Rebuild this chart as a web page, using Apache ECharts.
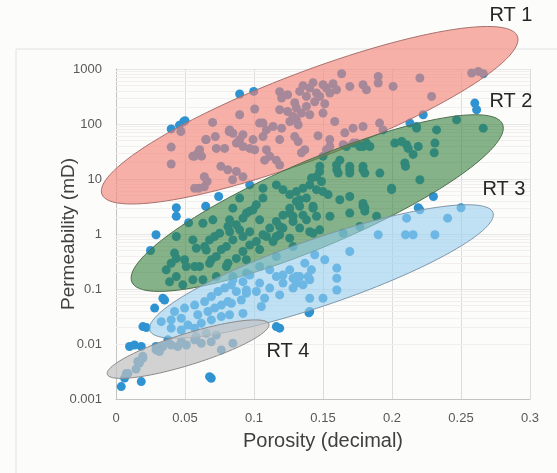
<!DOCTYPE html>
<html>
<head>
<meta charset="utf-8">
<script src="https://cdn.jsdelivr.net/npm/echarts@6/dist/echarts.min.js"></script>
<style>
  html, body { margin: 0; padding: 0; background: #fcfcfa; }
  #chart { width: 557px; height: 473px; }
</style>
</head>
<body>
<div id="chart"></div>
<script>
// samples: [porosity (decimal), permeability (mD)]
const outlierPoints = [
  [0.040, 81], [0.046, 95], [0.049, 110], [0.050, 115], [0.0896, 351], [0.0998, 391],
  [0.0437, 3.0], [0.0437, 2.1], [0.065, 3.2], [0.0744, 4.8], [0.0526, 1.6], [0.029, 0.97],
  [0.0437, 0.9], [0.025, 0.5], [0.26, 240], [0.2613, 182], [0.2226, 147], [0.23, 4.8],
  [0.2202, 2.75], [0.034, 0.068], [0.0352, 0.063], [0.028, 0.045], [0.0195, 0.0207],
  [0.022, 0.0199], [0.0098, 0.009], [0.0134, 0.0096], [0.0183, 0.009], [0.0038, 0.00168],
  [0.0183, 0.00207], [0.0678, 0.00255], [0.069, 0.00238], [0.1162, 0.0207], [0.1186, 0.0194],
  [0.1404, 0.039], [0.1398, 0.037]
];

const rt1Points = [
  [0.047, 73], [0.040, 38], [0.040, 18.7], [0.070, 107], [0.065, 52], [0.072, 59], [0.0727, 36],
  [0.057, 26], [0.059, 29], [0.062, 26], [0.082, 73], [0.0787, 36], [0.081, 14.7], [0.064, 11],
  [0.057, 6.8], [0.060, 6.8], [0.064, 7.2], [0.066, 9], [0.076, 17], [0.0845, 9.7],
  [0.120, 297], [0.0896, 147], [0.1005, 187], [0.1186, 182],
  [0.1244, 169], [0.1307, 195], [0.1344, 158], [0.1283, 137], [0.138, 209], [0.1404, 147],
  [0.1331, 391], [0.1404, 451], [0.1453, 366], [0.1525, 451], [0.1598, 420], [0.138, 317],
  [0.1476, 317], [0.155, 366],
  [0.1635, 820], [0.1694, 482], [0.179, 518], [0.1815, 420], [0.150, 158], [0.1718, 84],
  [0.179, 90], [0.1464, 61], [0.1065, 104], [0.109, 78], [0.1065, 59], [0.1138, 90],
  [0.120, 84], [0.1186, 52], [0.0896, 52], [0.092, 64], [0.0993, 52], [0.0969, 36],
  [0.1005, 34], [0.109, 34], [0.1114, 26], [0.1162, 22], [0.1077, 22], [0.1295, 59],
  [0.132, 48], [0.1368, 34], [0.1344, 30], [0.126, 111], [0.1307, 119], [0.132, 97],
  [0.0824, 78], [0.0872, 45], [0.092, 39], [0.1525, 34], [0.1646, 42], [0.184, 39],
  [0.19, 733], [0.19, 556], [0.2008, 482], [0.2202, 685], [0.2287, 317], [0.2577, 846],
  [0.2625, 904], [0.2662, 820], [0.191, 104], [0.1935, 78], [0.213, 104], [0.2178, 90],
  [0.1355, 497], [0.1428, 564], [0.15, 518], [0.1573, 540], [0.1295, 244], [0.144, 254],
  [0.1513, 233], [0.1244, 340], [0.1186, 386], [0.1585, 111], [0.1658, 69], [0.1549, 52],
  [0.0654, 52], [0.0606, 34], [0.0557, 26], [0.0847, 68], [0.104, 104],
  [0.0872, 13.7], [0.092, 11], [0.1186, 18]
];

const rt2Points = [
  [0.1549, 39], [0.1622, 22], [0.179, 39], [0.1815, 45], [0.2178, 84], [0.2323, 78],
  [0.2468, 119], [0.2661, 84], [0.202, 45], [0.207, 48], [0.2105, 42], [0.2117, 36],
  [0.219, 39], [0.2311, 45], [0.2306, 30], [0.2153, 28], [0.2093, 19.5], [0.2098, 17],
  [0.1997, 6.4], [0.1912, 12.8], [0.1803, 12.8], [0.179, 17], [0.1694, 17], [0.1694, 12.8],
  [0.1598, 18], [0.161, 12.8], [0.179, 3.6], [0.1803, 3.0], [0.1694, 4.8], [0.1888, 2.1],
  [0.2202, 9.7], [0.1743, 45], [0.1767, 39], [0.15, 26], [0.1477, 17], [0.1453, 11],
  [0.167, 39], [0.172, 45], [0.1997, 6.8],
  [0.1065, 6.8], [0.1162, 7.8], [0.121, 6.4], [0.1259, 5.2], [0.1307, 5.9], [0.1355, 6.8],
  [0.1404, 7.8], [0.1453, 6.4], [0.1489, 9.0], [0.15, 5.9], [0.1416, 10.4], [0.1476, 13.7],
  [0.138, 4.5], [0.1307, 3.9], [0.1259, 2.95], [0.121, 2.2], [0.1162, 1.69], [0.1114, 1.28],
  [0.1065, 0.97], [0.1017, 0.73], [0.0969, 0.63], [0.092, 0.48], [0.0872, 0.36],
  [0.1065, 4.5], [0.1017, 3.4], [0.0969, 2.6], [0.092, 1.94], [0.0872, 1.47], [0.0824, 1.1],
  [0.121, 1.28], [0.1283, 1.69], [0.1355, 2.2], [0.1428, 2.95], [0.1453, 2.1], [0.1331, 1.28],
  [0.1404, 1.1], [0.0896, 4.5], [0.0847, 2.95], [0.0969, 7.8], [0.16, 14.7], [0.1694, 14.7],
  [0.179, 14.7], [0.179, 3.2], [0.1803, 2.6], [0.1537, 5.2], [0.1138, 0.73], [0.1186, 0.97],
  [0.1259, 0.84], [0.0969, 1.1], [0.092, 0.9],
  [0.0388, 0.135], [0.0437, 0.168], [0.0557, 0.147], [0.0509, 0.256], [0.0606, 0.256],
  [0.0678, 0.294], [0.0437, 0.36], [0.0364, 0.223], [0.0654, 0.51], [0.0727, 0.39],
  [0.08, 0.59], [0.0847, 0.78], [0.0751, 1.03], [0.0678, 0.78], [0.063, 1.57], [0.0702, 1.81],
  [0.0557, 0.78], [0.0582, 0.55], [0.0823, 1.81], [0.0896, 1.19], [0.0945, 2.4], [0.1041, 1.81],
  [0.0993, 2.75], [0.109, 0.9], [0.1186, 1.37], [0.1283, 2.1], [0.1331, 3.2], [0.1041, 0.52],
  [0.1162, 0.39], [0.1283, 0.59], [0.0945, 0.34], [0.1041, 0.256], [0.08, 0.256],
  [0.0727, 0.168], [0.063, 0.147], [0.0484, 0.119], [0.0847, 0.168], [0.0945, 0.194],
  [0.1162, 0.9], [0.0642, 0.59], [0.0715, 0.9], [0.0763, 0.52], [0.0811, 1.37], [0.0691, 0.34],
  [0.0497, 0.34], [0.057, 0.256], [0.0811, 0.294], [0.040, 0.294], [0.0424, 0.45],
  [0.1259, 2.4], [0.1331, 4.2], [0.1428, 3.2], [0.138, 1.81], [0.1476, 1.19], [0.155, 2.1],
  [0.1622, 4.2], [0.1694, 2.4], [0.1767, 1.37], [0.1646, 1.03], [0.1428, 1.03]
];

const rt3Points = [
  [0.144, 0.42], [0.1368, 0.295], [0.1416, 0.223], [0.1392, 0.168], [0.1331, 0.168],
  [0.1283, 0.157], [0.1259, 0.223], [0.121, 0.18], [0.1307, 0.128], [0.1694, 0.48],
  [0.16, 0.24], [0.16, 0.157], [0.1404, 0.068], [0.1053, 0.048], [0.092, 0.036],
  [0.0908, 0.063], [0.0836, 0.055], [0.0872, 0.09], [0.0945, 0.096], [0.1017, 0.09],
  [0.092, 0.136], [0.0847, 0.147], [0.1162, 0.168], [0.121, 0.128], [0.1307, 0.168],
  [0.1355, 0.119], [0.1404, 0.147], [0.1283, 0.104], [0.1114, 0.104],
  [0.219, 3.0], [0.25, 3.0], [0.2106, 1.94], [0.2403, 1.94], [0.19, 0.97], [0.2098, 0.97],
  [0.2153, 0.97], [0.2311, 0.97],
  [0.0328, 0.0255], [0.040, 0.0274], [0.0473, 0.0294], [0.0424, 0.039], [0.0497, 0.045],
  [0.057, 0.051], [0.0642, 0.059], [0.0691, 0.073], [0.0739, 0.09], [0.0787, 0.104],
  [0.0836, 0.119], [0.0593, 0.034], [0.0666, 0.039], [0.0715, 0.045], [0.0763, 0.051],
  [0.0811, 0.059], [0.0521, 0.0222], [0.0618, 0.0239], [0.0691, 0.0274], [0.0763, 0.0315],
  [0.0823, 0.034], [0.040, 0.0194], [0.0473, 0.018], [0.057, 0.0194],
  [0.0969, 0.18], [0.1041, 0.128], [0.0945, 0.084], [0.1077, 0.068], [0.1186, 0.078],
  [0.1114, 0.223], [0.1513, 0.34], [0.16, 0.096], [0.15, 0.068]
];

const rt4Points = [
  [0.0086, 0.0029], [0.0062, 0.0024], [0.0158, 0.0048], [0.0194, 0.0055], [0.029, 0.0078],
  [0.034, 0.009], [0.040, 0.0096], [0.0448, 0.009], [0.051, 0.0096], [0.0376, 0.0119],
  [0.0473, 0.011], [0.057, 0.0119], [0.0618, 0.0103], [0.069, 0.011], [0.0763, 0.0078],
  [0.0847, 0.0103], [0.058, 0.0136], [0.0654, 0.0157], [0.0727, 0.0146], [0.0145, 0.0035],
  [0.029, 0.009], [0.0315, 0.0073], [0.0194, 0.006], [0.017, 0.0045], [0.0074, 0.0029]
];

// rock-type envelopes: major-axis end points in data units + minor/major ratio
const rockTypes = ['RT 1', 'RT 2', 'RT 3', 'RT 4'];
const envelopeLeftTip = [[-0.0102, 5.29], [0.0115, 0.134], [0.0245, 0.0177], [-0.0063, 0.00281]];
const envelopeRightTip = [[0.2909, 3936], [0.2801, 99.4], [0.2732, 2.44], [0.1108, 0.0231]];
const envelopeRatio = [0.195, 0.214, 0.184, 0.185];

const xTicks = [0, 0.05, 0.1, 0.15, 0.2, 0.25, 0.3];
const yTickLabels = ['0.001', '0.01', '0.1', '1', '10', '100', '1000'];

const envelopeStyles = [
  { fill: 'rgba(242,129,118,0.62)', stroke: '#a9716d' },
  { fill: 'rgba(54,128,60,0.6)', stroke: '#4f6f50' },
  { fill: 'rgba(150,207,238,0.6)', stroke: '#7f98aa' },
  { fill: 'rgba(192,192,192,0.7)', stroke: '#8a8a8a' }
];

const labelPos = [[511, 15], [511, 101], [504, 189], [288, 351]];

const chart = echarts.init(document.getElementById('chart'));

// faint 2..9 lines inside every decade
const minorLines = [];
for (let e = -3; e < 3; e++) {
  for (let m = 2; m <= 9; m++) minorLines.push({ yAxis: m * Math.pow(10, e) });
}

const renderEnvelope = (params, api) => {
  const p1 = api.coord([api.value(0), api.value(1)]);
  const p2 = api.coord([api.value(2), api.value(3)]);
  const cx = (p1[0] + p2[0]) / 2;
  const cy = (p1[1] + p2[1]) / 2;
  const a = Math.hypot(p2[0] - p1[0], p2[1] - p1[1]) / 2;
  const b = a * api.value(4);
  const ang = Math.atan2(p2[1] - p1[1], p2[0] - p1[0]);
  const pts = [];
  for (let i = 0; i < 120; i++) {
    const t = (i / 120) * Math.PI * 2;
    const ex = a * Math.cos(t), ey = b * Math.sin(t);
    pts.push([cx + ex * Math.cos(ang) - ey * Math.sin(ang), cy + ex * Math.sin(ang) + ey * Math.cos(ang)]);
  }
  const s = envelopeStyles[params.dataIndex];
  return { type: 'polygon', shape: { points: pts }, style: { fill: s.fill, stroke: s.stroke, lineWidth: 1 } };
};

const font = "'Liberation Sans', Arial, sans-serif";

const option = {
  backgroundColor: '#fcfcfa',
  animation: false,
  grid: { left: 116, right: 27, top: 69, bottom: 74 },
  xAxis: {
    type: 'value',
    min: 0, max: 0.3, interval: 0.05,
    name: 'Porosity (decimal)',
    nameLocation: 'middle',
    nameGap: 32,
    nameTextStyle: { color: '#404040', fontSize: 20, fontFamily: font },
    axisLine: { lineStyle: { color: '#c4c4c4' } },
    axisTick: { show: false },
    axisLabel: { color: '#595959', fontSize: 13, fontFamily: font, margin: 13,
      formatter: v => String(xTicks.find(t => Math.abs(t - v) < 1e-9) ?? v) },
    splitLine: { lineStyle: { color: '#dcdcdc' } }
  },
  yAxis: {
    type: 'log', logBase: 10,
    min: 0.001, max: 1000,
    name: 'Permeability (mD)',
    nameLocation: 'middle',
    nameGap: 38,
    nameMoveOverlap: false,
    nameTextStyle: { color: '#404040', fontSize: 19, fontFamily: font },
    axisLine: { show: true, lineStyle: { color: '#c4c4c4' } },
    axisTick: { show: false },
    axisLabel: { color: '#595959', fontSize: 13, fontFamily: font, margin: 14,
      formatter: v => yTickLabels[Math.round(Math.log10(v)) + 3] },
    splitLine: { lineStyle: { color: '#e6e6e6' } }
  },
  graphic: [
    { type: 'rect', z: -10, shape: { x: 16, y: 49, width: 560, height: 440 },
      style: { fill: null, stroke: '#e2e2e2', lineWidth: 1 } },
    ...rockTypes.map((t, i) => ({
      type: 'text', z: 100, x: labelPos[i][0], y: labelPos[i][1],
      style: { text: t, fill: '#262626', font: '20px ' + font, textAlign: 'center', textVerticalAlign: 'middle' }
    }))
  ],
  series: [
    {
      type: 'scatter',
      z: 2,
      symbolSize: 9,
      itemStyle: { color: '#2f93d1', opacity: 1 },
      data: [...outlierPoints, ...rt1Points, ...rt2Points, ...rt3Points, ...rt4Points],
      markLine: {
        silent: true, symbol: 'none', label: { show: false }, z: 1,
        lineStyle: { color: '#f3eeee', type: 'solid', width: 1 },
        data: minorLines
      }
    },
    {
      type: 'custom',
      z: 5,
      clip: false,
      renderItem: renderEnvelope,
      data: rockTypes.map((t, i) => [envelopeLeftTip[i][0], envelopeLeftTip[i][1],
        envelopeRightTip[i][0], envelopeRightTip[i][1], envelopeRatio[i]])
    }
  ]
};

chart.setOption(option);
</script>
</body>
</html>
